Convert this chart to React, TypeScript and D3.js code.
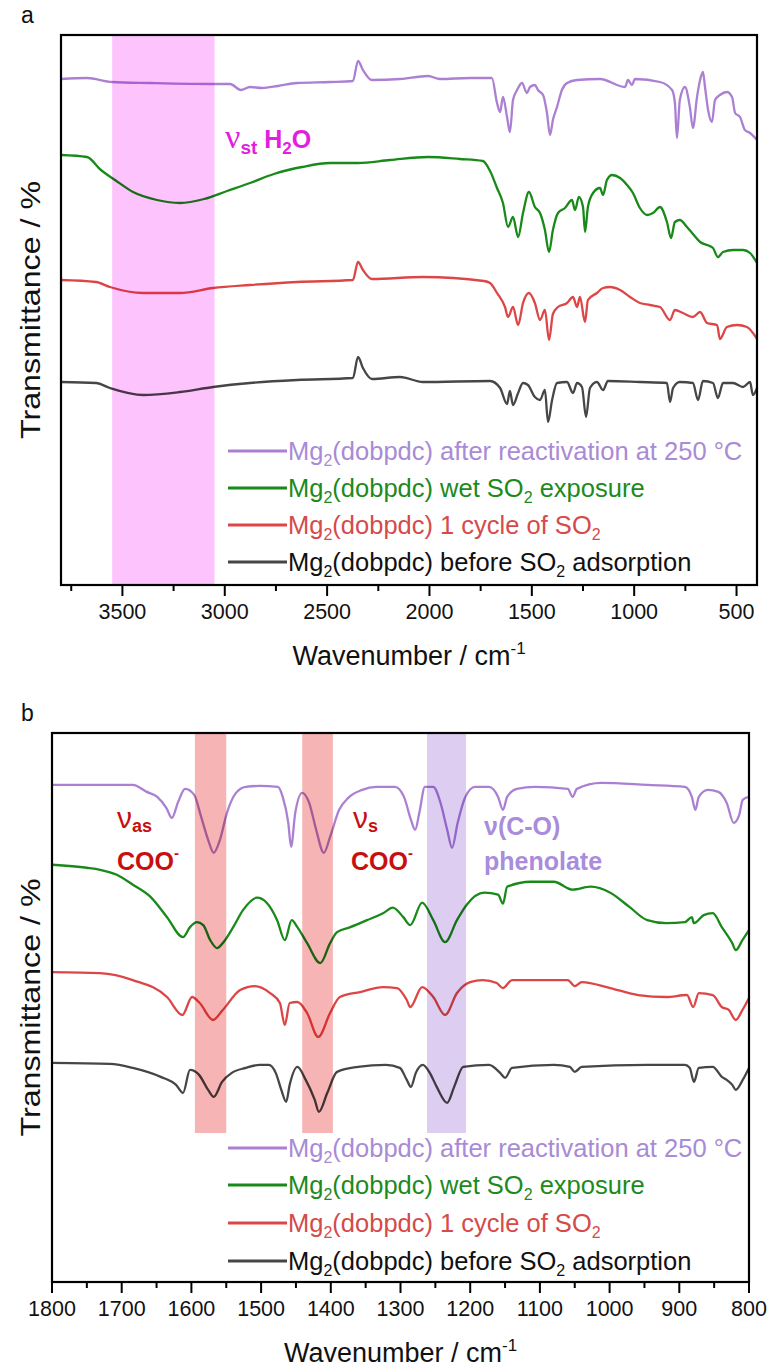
import React from 'react';
import * as d3 from 'd3';

type P = [number, number];

// ---------- Panel a data (wavenumber cm-1, transmittance offset units) ----------
const aTicksMajor = [3500, 3000, 2500, 2000, 1500, 1000, 500];
const aTicksMinor = [3750, 3250, 2750, 2250, 1750, 1250, 750];
const aBand: P = [3550, 3050];

const aPurple: P[] = [[3800,101.2],[3673,101.4],[3551,100.6],[3365,100.4],[3053,100.2],[2974,100.2],[2921,99],[2877,99.6],[2818,99.4],[2740,99.8],[2647,100.4],[2486,100.6],[2374,100.8],[2349,104.8],[2325,103],[2281,101],[2144,101.2],[2007,101.8],[1949,101.2],[1802,101.4],[1695,101.4],[1670,96.4],[1655,94.6],[1641,97.6],[1621,93.6],[1607,90.6],[1592,97],[1572,99],[1548,100.4],[1524,98.4],[1509,99.6],[1485,100],[1470,99],[1445,98],[1426,94.4],[1411,90],[1397,93],[1377,95.6],[1353,99],[1328,100.4],[1279,101],[1167,101.2],[1045,99.6],[1030,101],[1011,100],[996,101.2],[874,100.6],[815,99],[801,96.4],[791,89.4],[777,97],[752,99.6],[728,95.6],[713,91.4],[693,97.6],[678,101],[664,102.6],[654,99.6],[639,95],[620,92.6],[605,97],[581,98],[547,98.6],[522,97.6],[507,94.4],[483,93.6],[459,91],[434,90.4],[400,89]];
const aGreen: P[] = [[3800,86],[3673,85.6],[3605,83],[3536,81],[3448,78.6],[3331,77],[3219,76.4],[3101,77.2],[2989,78.8],[2877,80.4],[2760,82.2],[2623,83.6],[2486,84.4],[2349,84.4],[2193,85],[2007,85.6],[1851,85.2],[1739,84.8],[1704,82.8],[1670,79.4],[1641,76.4],[1616,71.6],[1592,73.6],[1567,69.6],[1543,74.4],[1514,78.6],[1485,75.6],[1460,74.4],[1436,71],[1416,66.6],[1397,71],[1372,74.4],[1338,75.4],[1304,77],[1289,75],[1270,77.6],[1250,75.6],[1240,70.6],[1226,75.6],[1201,78.4],[1167,79.4],[1152,78],[1133,81],[1108,82],[1069,81.4],[1035,80],[1006,78.4],[972,75.4],[937,74],[908,74.4],[874,75.6],[840,72.6],[820,69.4],[801,72.6],[777,73],[742,71.6],[713,70.2],[678,68.6],[644,68],[615,67.4],[591,65.6],[566,66.6],[517,67],[468,67],[434,66.4],[400,64.4]];
const aRed: P[] = [[3800,61],[3629,60.6],[3561,59.6],[3399,58.4],[3219,58.4],[3057,59.4],[2877,60],[2647,60.6],[2374,61],[2349,64.6],[2325,63],[2281,61.2],[2032,61.6],[1734,60.8],[1704,60.4],[1670,58.4],[1631,55.6],[1616,53.6],[1592,55.6],[1567,52],[1543,56.4],[1514,58.4],[1485,56.4],[1460,53],[1436,55],[1416,49],[1397,54.2],[1372,55.6],[1328,56.4],[1299,57.6],[1279,55.6],[1265,57.6],[1240,52.6],[1226,57],[1182,58.4],[1152,59.4],[1118,59.6],[1069,59],[1020,57.6],[972,56.4],[923,56],[874,55.6],[825,53],[801,55],[762,54.4],[713,53.6],[678,54.6],[644,52.4],[595,52],[581,49.2],[547,51.6],[498,52],[449,51.6],[400,49.2]];
const aBlack: P[] = [[3800,40.6],[3629,40.4],[3561,39.4],[3399,38],[3219,38.6],[3057,39.6],[2877,40.4],[2647,41],[2374,41.4],[2349,45.6],[2325,43.4],[2281,41.2],[2144,41.6],[2032,40.6],[1704,40.8],[1655,39.4],[1621,36.2],[1607,38.8],[1592,36],[1567,38.4],[1543,40.4],[1519,40],[1485,37.6],[1460,37],[1436,39],[1421,32.6],[1401,37],[1377,40.4],[1328,40.6],[1299,38.4],[1279,40.4],[1255,39.6],[1235,33.6],[1216,39.4],[1182,40.6],[1152,39],[1128,40.8],[972,40.6],[840,40.4],[825,36.6],[810,39.4],[777,40.6],[713,40.4],[688,37],[664,40.8],[615,40.4],[591,37.4],[566,40.4],[517,40.4],[468,39.6],[434,40.6],[420,38],[400,39.4]];

// ---------- Panel b data ----------
const bTicksMajor = [1800, 1700, 1600, 1500, 1400, 1300, 1200, 1100, 1000, 900, 800];
const bTicksMinor = [1750, 1650, 1550, 1450, 1350, 1250, 1150, 1050, 950, 850];
const bBandsRed: P[] = [[1595, 1550], [1441, 1397]];
const bBandsPurple: P[] = [[1262, 1206]];

const bPurple: P[] = [[1800,99.6],[1684,99.6],[1664,98.2],[1649,97.2],[1636,95],[1628,93],[1619,96.2],[1609,98.8],[1596,97.6],[1586,93.2],[1576,88.6],[1568,86],[1559,88.6],[1549,94],[1536,98],[1522,99.2],[1502,99.4],[1476,99.2],[1469,97.2],[1461,92],[1457,87.2],[1451,94],[1441,98],[1431,96],[1421,90.6],[1410,86],[1401,89.2],[1388,94.6],[1375,97],[1355,98.6],[1335,99.2],[1308,99.2],[1295,97.2],[1285,92.6],[1279,90.6],[1273,94],[1265,99.2],[1253,99.2],[1243,96.2],[1233,90.6],[1226,87],[1218,92],[1207,97.2],[1193,99.2],[1173,99.2],[1160,97.2],[1153,94.6],[1147,97.2],[1133,98.8],[1107,99.2],[1060,98.8],[1053,97.2],[1047,98.8],[1012,100],[946,99.6],[892,99.2],[882,97.2],[877,94.6],[872,97.2],[859,98.6],[844,98.2],[832,96],[822,92],[814,93.6],[809,96.6],[800,97.2]];
const bGreen: P[] = [[1800,83.6],[1750,83],[1731,82.6],[1707,81.6],[1684,79.6],[1659,77.2],[1635,73.1],[1612,69.1],[1602,71.1],[1592,72.1],[1583,71.5],[1573,68.5],[1563,66.9],[1555,67.9],[1540,71.1],[1526,74.5],[1506,77],[1492,76],[1477,72.5],[1466,68.5],[1456,72.5],[1448,71.1],[1434,67.9],[1415,63.9],[1401,67.9],[1391,70.1],[1372,71.1],[1348,72.5],[1325,73.9],[1311,75],[1296,73.1],[1286,71.5],[1269,76],[1253,72.5],[1236,68.1],[1219,72.5],[1205,75.6],[1180,78],[1160,77.6],[1153,75.8],[1147,79.2],[1113,80.2],[1080,80.2],[1053,78.6],[1027,79.2],[999,78],[972,75.2],[946,72.5],[919,71.9],[892,72.1],[882,73.1],[879,71.9],[865,73.5],[852,73.9],[839,71.1],[824,67.9],[819,66.5],[809,68.6],[800,70.5]];
const bRed: P[] = [[1800,62.1],[1731,61.9],[1684,60.5],[1635,57.1],[1613,53.5],[1599,57.1],[1588,55.9],[1569,52.5],[1555,54.5],[1530,58.5],[1509,59.3],[1487,57.9],[1473,55.9],[1466,51.5],[1459,55.9],[1448,56.1],[1434,53.9],[1418,49.1],[1401,53.9],[1387,57.1],[1358,58.1],[1325,59.1],[1305,58.9],[1291,56.5],[1286,55.1],[1269,59.1],[1253,57.1],[1236,53.5],[1219,57.9],[1200,60.1],[1182,60.5],[1162,59.9],[1153,58.9],[1140,60.5],[1100,60.5],[1060,60.5],[1050,59.3],[1040,60.1],[999,58.9],[959,57.5],[919,57.1],[889,57.5],[880,55.1],[872,57.9],[852,57.5],[839,55.1],[829,54.5],[819,52.5],[809,54.6],[800,56.9]];
const bBlack: P[] = [[1800,43.9],[1717,43.7],[1684,42.9],[1644,41.1],[1622,39.5],[1612,37.9],[1602,42.5],[1589,41.5],[1576,38.5],[1568,37.1],[1556,40.1],[1542,41.9],[1522,42.9],[1502,43.5],[1489,43.5],[1479,41.9],[1471,38.5],[1464,36.1],[1459,39.5],[1448,43.1],[1436,40.5],[1423,36.5],[1417,34.1],[1405,37.9],[1391,42.1],[1361,43.1],[1321,43.5],[1301,42.9],[1291,40.5],[1285,39.1],[1278,41.9],[1268,43.5],[1258,41.9],[1248,39.1],[1233,35.9],[1223,39.1],[1210,43.1],[1173,43.5],[1157,41.9],[1150,40.9],[1140,42.9],[1080,43.5],[1057,43.1],[1050,42.1],[1040,43.1],[946,43.5],[892,43.5],[885,42.9],[879,40.1],[872,42.9],[852,43.1],[839,41.1],[832,40.5],[824,39.5],[819,38.5],[809,40.5],[800,42.9]];

// ---------- Legend ----------
const legendSuffixes = [
  ['(dobpdc) after reactivation at 250 °C', ''],
  ['(dobpdc) wet SO', ' exposure'],
  ['(dobpdc) 1 cycle of SO', ''],
  ['(dobpdc) before SO', ' adsorption'],
];
const lineColors = ['#ab80d3', '#198a19', '#dd4646', '#464646'];
const textColors = ['#a98ad6', '#1c8a1c', '#d54a4a', '#111111'];

const FONT = 'Liberation Sans, Arial, Helvetica, sans-serif';

type Frame = { left: number; right: number; top: number; bottom: number };

function LegendText({ x, y, i }: { x: number; y: number; i: number }) {
  const [mid, end] = legendSuffixes[i];
  const hasSO2 = mid.endsWith('SO');
  return (
    <text x={x} y={y} fontFamily={FONT} fontSize={25.5} fill={textColors[i]}>
      <tspan>Mg</tspan>
      <tspan fontSize={16} dy={6}>2</tspan>
      <tspan dy={-6}>{mid}</tspan>
      {hasSO2 && <tspan fontSize={16} dy={6}>2</tspan>}
      {hasSO2 && <tspan dy={-6}>{end}</tspan>}
    </text>
  );
}

function Panel(props: {
  frame: Frame;
  xDomain: [number, number];
  major: number[];
  minor: number[];
  series: P[][];
  bands: { range: P; color: string; bottom?: number }[];
  legendYs: number[];
  letter: string;
  id: string;
  children?: React.ReactNode;
}) {
  const { frame, xDomain, major, minor, series, bands, legendYs, letter, id } = props;
  const x = d3.scaleLinear().domain(xDomain).range([frame.left, frame.right]);
  const y = d3.scaleLinear().domain([0, 110]).range([frame.bottom, frame.top]);
  const line = d3
    .line<P>()
    .x((d) => x(d[0]))
    .y((d) => y(d[1]))
    .curve(d3.curveMonotoneX);
  const midY = (frame.top + frame.bottom) / 2;
  const midX = (frame.left + frame.right) / 2;
  return (
    <g>
      <defs>
        <clipPath id={id}>
          <rect x={frame.left} y={frame.top} width={frame.right - frame.left} height={frame.bottom - frame.top} />
        </clipPath>
      </defs>
      <text x={21} y={frame.top - 12} fontFamily={FONT} fontSize={23} fill="#111">{letter}</text>
      <g clipPath={`url(#${id})`}>
        {series.map((s, i) => (
          <path key={i} d={line(s) || ''} fill="none" stroke={lineColors[i]} strokeWidth={2.3} strokeLinejoin="round" />
        ))}
        {bands.map((b, i) => (
          <rect
            key={i}
            x={x(b.range[0])}
            y={frame.top}
            width={x(b.range[1]) - x(b.range[0])}
            height={(b.bottom ?? frame.bottom) - frame.top}
            fill={b.color}
            style={{ mixBlendMode: 'multiply' }}
          />
        ))}
      </g>
      {props.children}
      {legendYs.map((ly, i) => (
        <g key={i}>
          <line x1={228} x2={287} y1={ly} y2={ly} stroke={lineColors[i]} strokeWidth={3} />
          <LegendText x={288} y={ly + 9} i={i} />
        </g>
      ))}
      <rect x={frame.left} y={frame.top} width={frame.right - frame.left} height={frame.bottom - frame.top} fill="none" stroke="#000" strokeWidth={2.2} />
      {major.map((t) => (
        <g key={'M' + t}>
          <line x1={x(t)} x2={x(t)} y1={frame.bottom} y2={frame.bottom + 11} stroke="#000" strokeWidth={2} />
          <text x={x(t)} y={frame.bottom + 34} textAnchor="middle" fontFamily={FONT} fontSize={21.5} fill="#111">{t}</text>
        </g>
      ))}
      {minor.map((t) => (
        <line key={'m' + t} x1={x(t)} x2={x(t)} y1={frame.bottom} y2={frame.bottom + 6} stroke="#000" strokeWidth={2} />
      ))}
      <text x={midX} y={frame.bottom + 80} textAnchor="middle" fontFamily={FONT} fontSize={27} fill="#111">
        Wavenumber / cm<tspan fontSize={17} dy={-11}>-1</tspan>
      </text>
      <text
        transform={`translate(40,${midY}) rotate(-90)`}
        textAnchor="middle"
        fontFamily={FONT}
        fontSize={28}
        fill="#111"
        textLength={258}
        lengthAdjust="spacingAndGlyphs"
      >
        Transmittance / %
      </text>
    </g>
  );
}

export default function App() {
  const frameA: Frame = { left: 61, right: 757, top: 35, bottom: 585 };
  const frameB: Frame = { left: 52, right: 749, top: 733, bottom: 1282 };
  const red = '#c80f0f';
  const lav = '#a98cdb';
  return (
    <svg width={769} height={1369} style={{ position: 'absolute', left: 0, top: 0, background: '#fff' }}>
      <rect x={0} y={0} width={769} height={1369} fill="#fff" />
      <Panel
        frame={frameA}
        xDomain={[3800, 400]}
        major={aTicksMajor}
        minor={aTicksMinor}
        series={[aPurple, aGreen, aRed, aBlack]}
        bands={[{ range: aBand, color: '#fdc3fd' }]}
        legendYs={[451, 488, 525, 562]}
        letter="a"
        id="clipA"
      >
        <text x={225} y={148} fill="#e11ee1" fontFamily={FONT} fontWeight="bold" fontSize={25}>
          <tspan fontFamily="Liberation Serif, Times New Roman, serif" fontWeight="normal" fontSize={34}>ν</tspan>
          <tspan fontSize={19} dy={6}>st</tspan>
          <tspan dy={-6}> H</tspan>
          <tspan fontSize={17} dy={6}>2</tspan>
          <tspan dy={-6}>O</tspan>
        </text>
      </Panel>
      <Panel
        frame={frameB}
        xDomain={[1800, 800]}
        major={bTicksMajor}
        minor={bTicksMinor}
        series={[bPurple, bGreen, bRed, bBlack]}
        bands={[
          ...bBandsRed.map((r) => ({ range: r, color: '#f6b4b4', bottom: 1133 })),
          ...bBandsPurple.map((r) => ({ range: r, color: '#dccdf1', bottom: 1133 })),
        ]}
        legendYs={[1148, 1185, 1223, 1261]}
        letter="b"
        id="clipB"
      >
        <text x={117} y={828} fill={red} fontFamily={FONT} fontSize={30}>
          ν<tspan fontSize={18} fontWeight="bold" dy={4}>as</tspan>
        </text>
        <text x={117} y={870} fill={red} fontFamily={FONT} fontWeight="bold" fontSize={25}>
          COO<tspan fontSize={15} dy={-12}>-</tspan>
        </text>
        <text x={353} y={828} fill={red} fontFamily={FONT} fontSize={30}>
          ν<tspan fontSize={18} fontWeight="bold" dy={4}>s</tspan>
        </text>
        <text x={351} y={870} fill={red} fontFamily={FONT} fontWeight="bold" fontSize={25}>
          COO<tspan fontSize={15} dy={-12}>-</tspan>
        </text>
        <text x={484} y={835} fill={lav} fontFamily={FONT} fontWeight="bold" fontSize={25}>ν(C-O)</text>
        <text x={484} y={870} fill={lav} fontFamily={FONT} fontWeight="bold" fontSize={25}>phenolate</text>
      </Panel>
    </svg>
  );
}
